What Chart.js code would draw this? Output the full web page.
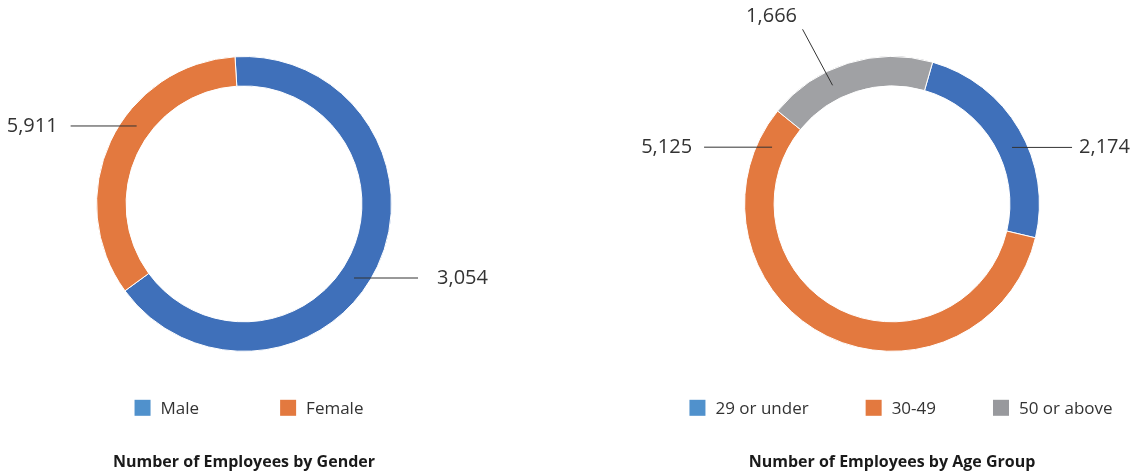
<!DOCTYPE html>
<html>
<head>
<meta charset="utf-8">
<title>Employees</title>
<script src="https://cdn.jsdelivr.net/npm/chart.js@4.4.0/dist/chart.umd.min.js"></script>
<style>
    html, body { margin: 0; padding: 0; background: #fff; }
    #wrap { position: relative; width: 1148px; height: 475px; }
    .box { position: absolute; top: 0; height: 475px; }
    #genderBox { left: 0; width: 496px; }
    #ageBox { left: 600px; width: 548px; }
</style>
</head>
<body>
<div id="wrap">
    <div class="box" id="genderBox"><canvas id="genderChart"></canvas></div>
    <div class="box" id="ageBox"><canvas id="ageChart"></canvas></div>
</div>
<script>
// Data
const genderLabels = ['Male', 'Female'];
const genderValues = [5911, 3054];
const genderCalloutText = ['3,054', '5,911']; // as printed on the chart
const ageLabels = ['29 or under', '30-49', '50 or above'];
const ageValues = [2174, 5125, 1666];
const ageCalloutText = ['2,174', '5,125', '1,666'];

const FONT = "'Open Sans', 'DejaVu Sans', sans-serif";
const BLUE = '#3F70BA', ORANGE = '#E3793F', GRAY = '#A0A1A4';
const LEGEND_BLUE = '#5091CC', LEGEND_ORANGE = '#E3793F', LEGEND_GRAY = '#98999D';

// leader lines: where on the slice (fraction of its sweep), line vector, text offset
const genderCallouts = [
    { f: 0.537, dx: 64, dy: 0, tx: 19, ty: 0, align: 'left' },
    { f: 0.588, dx: -66, dy: 0, tx: -13, ty: 0, align: 'right' }
];
const ageCallouts = [
    { f: 0.559, dx: 60, dy: 0, tx: 7, ty: 0, align: 'left' },
    { f: 0.933, dx: -68, dy: 0, tx: -12, ty: 0, align: 'right' },
    { f: 0.363, dx: -30, dy: -56, tx: -31, ty: -13, align: 'center' }
];

const calloutPlugin = {
    id: 'callouts',
    afterDatasetsDraw(chart, args, opts) {
        const arcs = chart.getDatasetMeta(0).data;
        const ctx = chart.ctx;
        ctx.save();
        ctx.strokeStyle = '#333';
        ctx.lineWidth = 1;
        ctx.fillStyle = '#333';
        ctx.font = '20px ' + FONT;
        ctx.textBaseline = 'middle';
        opts.items.forEach((c, i) => {
            const arc = arcs[i];
            const r = (arc.innerRadius + arc.outerRadius) / 2;
            const a = arc.startAngle + c.f * (arc.endAngle - arc.startAngle);
            const x0 = arc.x + r * Math.cos(a);
            const y0 = arc.y + r * Math.sin(a);
            const x1 = x0 + c.dx, y1 = y0 + c.dy;
            ctx.beginPath();
            ctx.moveTo(x0, y0);
            ctx.lineTo(x1, y1);
            ctx.stroke();
            ctx.textAlign = c.align;
            ctx.fillText(opts.texts[i], x1 + c.tx, y1 + c.ty);
        });
        ctx.restore();
    }
};

// simple legend drawn under the ring, with a fixed gap between items
const legendPlugin = {
    id: 'flatLegend',
    afterDraw(chart, args, opts) {
        const ctx = chart.ctx;
        const labels = chart.data.labels;
        const box = 16, textGap = 10;
        ctx.save();
        ctx.font = '17px ' + FONT;
        const widths = labels.map(l => box + textGap + ctx.measureText(l).width);
        const total = widths.reduce((s, w) => s + w, 0) + opts.gap * (labels.length - 1);
        const area = chart.chartArea;
        let x = (area.left + area.right) / 2 + opts.shift - total / 2;
        const y = area.bottom + opts.offset;
        ctx.textBaseline = 'middle';
        ctx.textAlign = 'left';
        labels.forEach((l, i) => {
            ctx.fillStyle = opts.colors[i];
            ctx.fillRect(x, y - box / 2, box, box);
            ctx.fillStyle = '#333';
            ctx.fillText(l, x + box + textGap, y + 1);
            x += widths[i] + opts.gap;
        });
        ctx.restore();
    }
};

function makeDonut(id, labels, values, colors, rotation, pad, title, callouts, texts, legendColors, gap, shift) {
    const ctx = document.getElementById(id).getContext('2d');
    return new Chart(ctx, {
        type: 'doughnut',
        data: {
            labels: labels,
            datasets: [{
                data: values,
                backgroundColor: colors,
                borderColor: '#fff',
                borderWidth: 1,
                hoverOffset: 0
            }]
        },
        options: {
            responsive: true,
            maintainAspectRatio: false,
            animation: false,
            cutout: '80%',
            rotation: rotation,
            layout: { padding: pad },
            plugins: {
                legend: { display: false },
                tooltip: { enabled: false },
                title: {
                    display: true,
                    text: title,
                    position: 'bottom',
                    color: '#1a1a1a',
                    font: { family: FONT, size: 16, weight: 'bold' },
                    padding: { top: 101, bottom: 3 }
                },
                callouts: { items: callouts, texts: texts },
                flatLegend: { colors: legendColors, gap: gap, offset: 56, shift: shift }
            }
        },
        plugins: [calloutPlugin, legendPlugin]
    });
}

makeDonut('genderChart', genderLabels, genderValues, [BLUE, ORANGE], -3.5,
    { top: 56, right: 8 },
    'Number of Employees by Gender', genderCallouts, genderCalloutText,
    [LEGEND_BLUE, LEGEND_ORANGE], 81, 5);

makeDonut('ageChart', ageLabels, ageValues, [BLUE, ORANGE, GRAY], 16,
    { top: 56, left: 48, right: 12 },
    'Number of Employees by Age Group', ageCallouts, ageCalloutText,
    [LEGEND_BLUE, LEGEND_ORANGE, LEGEND_GRAY], 57, 9);
</script>
</body>
</html>
